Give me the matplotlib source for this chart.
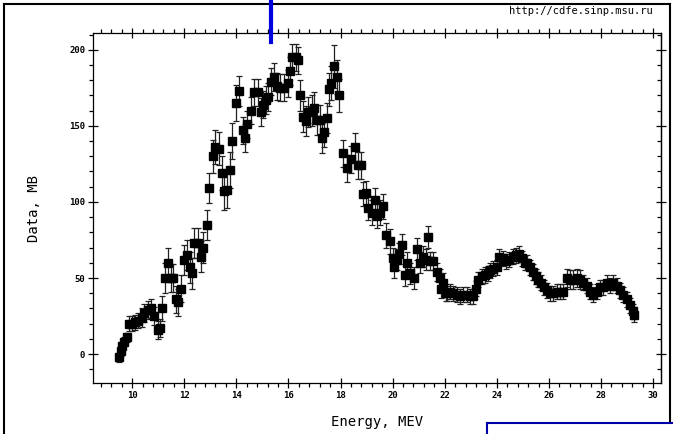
import matplotlib.pyplot as plt
from matplotlib.lines import Line2D
from matplotlib.ticker import MultipleLocator

# energy (MeV), cross section (mb), error (mb)
energy = [
    9.50, 9.58, 9.62, 9.69, 9.81, 9.88, 10.00, 10.12, 10.23, 10.38,
    10.46, 10.61, 10.73, 10.84, 11.00, 11.07, 11.15, 11.27, 11.38, 11.50,
    11.57, 11.69, 11.77, 11.88, 12.00, 12.11, 12.23, 12.30, 12.38, 12.53,
    12.65, 12.73, 12.88, 12.96, 13.11, 13.19, 13.34, 13.45, 13.53, 13.65,
    13.76, 13.84, 13.99, 14.11, 14.26, 14.34, 14.41, 14.57, 14.68, 14.84,
    14.95, 15.03, 15.14, 15.22, 15.34, 15.45, 15.57, 15.68, 15.83, 15.99,
    16.07, 16.14, 16.30, 16.37, 16.45, 16.56, 16.68, 16.76, 16.91, 16.99,
    17.10, 17.22, 17.29, 17.37, 17.49, 17.56, 17.64, 17.75, 17.87, 17.95,
    18.10, 18.25, 18.41, 18.56, 18.68, 18.79, 18.87, 18.98, 19.06, 19.21,
    19.33, 19.40, 19.52, 19.64, 19.75, 19.90, 20.02, 20.06, 20.17, 20.25,
    20.36, 20.48, 20.56, 20.67, 20.83, 20.94, 21.06, 21.17, 21.29, 21.36,
    21.44, 21.55, 21.71, 21.82, 21.86, 21.94, 22.05, 22.09, 22.21, 22.32,
    22.48, 22.59, 22.71, 22.86, 22.98, 23.09, 23.21, 23.28, 23.44, 23.55,
    23.67, 23.74, 23.86, 24.01, 24.09, 24.24, 24.36, 24.47, 24.63, 24.74,
    24.86, 24.97, 25.09, 25.16, 25.28, 25.39, 25.51, 25.59, 25.70, 25.82,
    25.93, 26.05, 26.16, 26.31, 26.43, 26.55, 26.70, 26.81, 26.93, 27.08,
    27.20, 27.31, 27.47, 27.58, 27.70, 27.85, 27.97, 28.08, 28.23, 28.35,
    28.46, 28.62, 28.73, 28.85, 29.00, 29.12, 29.24, 29.27,
]
data = [
    -2, 2, 5, 8, 11, 20, 20, 21, 22, 24,
    27, 29, 30, 25, 16, 17, 30, 50, 60, 50,
    50, 36, 34, 43, 62, 65, 57, 53, 73, 73,
    64, 70, 85, 109, 130, 136, 135, 119, 107, 108,
    121, 140, 165, 173, 147, 142, 151, 160, 172, 172,
    159, 164, 167, 169, 179, 182, 176, 175, 175, 178,
    186, 195, 195, 193, 170, 156, 153, 159, 160, 162,
    154, 154, 142, 146, 155, 174, 178, 189, 182, 170,
    132, 122, 128, 136, 124, 124, 105, 106, 96, 93,
    101, 91, 93, 97, 78, 74, 63, 57, 62, 66,
    72, 52, 60, 53, 50, 69, 60, 64, 62, 77,
    61, 61, 54, 50, 43, 47, 40, 40, 41, 40,
    39, 38, 39, 39, 38, 38, 43, 49, 51, 52,
    53, 55, 56, 57, 64, 63, 61, 62, 64, 65,
    66, 63, 60, 60, 57, 54, 51, 49, 47, 44,
    42, 40, 40, 41, 41, 41, 50, 49, 49, 50,
    49, 47, 45, 41, 39, 41, 44, 44, 47, 45,
    47, 45, 42, 39, 36, 32, 28, 26,
]
error = [
    3, 3, 3, 3, 3, 5, 5, 5, 5, 6,
    6, 6, 6, 6, 6, 6, 8, 10, 10, 9,
    9, 9, 9, 9, 10, 10, 10, 10, 10, 10,
    10, 10, 10, 10, 11, 11, 11, 11, 12, 12,
    12, 12, 12, 10, 9, 9, 9, 9, 9, 9,
    9, 9, 9, 9, 9, 9, 9, 9, 9, 9,
    9, 9, 9, 9, 10, 10, 10, 10, 10, 10,
    10, 10, 10, 10, 10, 11, 11, 14, 11, 11,
    9, 9, 9, 9, 9, 9, 8, 8, 8, 8,
    8, 8, 8, 8, 8, 8, 7, 7, 7, 7,
    7, 7, 7, 7, 7, 7, 7, 7, 7, 7,
    6, 6, 6, 6, 6, 6, 5, 5, 5, 5,
    5, 5, 5, 5, 5, 5, 5, 5, 5, 5,
    5, 5, 5, 5, 5, 5, 5, 5, 5, 5,
    5, 5, 5, 5, 5, 5, 5, 5, 5, 5,
    5, 5, 5, 5, 5, 5, 6, 6, 6, 6,
    6, 5, 5, 5, 5, 5, 5, 5, 5, 5,
    5, 5, 5, 5, 5, 5, 5, 5,
]

mono = "DejaVu Sans Mono"

fig = plt.figure(figsize=(6.73, 4.34), dpi=100)
ax = fig.add_axes([93 / 673, 1 - 383 / 434, 568 / 673, 350 / 434])

ax.errorbar(energy, data, yerr=error, fmt="s", color="black", ms=5.8,
            ecolor="#222222", elinewidth=0.9, capsize=2.5, capthick=0.9)

ax.set_xlim(8.5, 30.3)
ax.set_ylim(-19, 211)
ax.xaxis.set_major_locator(MultipleLocator(2))
ax.xaxis.set_minor_locator(MultipleLocator(0.4))
ax.yaxis.set_major_locator(MultipleLocator(50))
ax.yaxis.set_minor_locator(MultipleLocator(10))

ax.tick_params(which="major", direction="inout", length=7, width=0.9,
               top=True, right=False, labelsize=6.5, pad=2)
ax.tick_params(which="minor", direction="out", length=3.2, width=0.9,
               top=True, right=False)
for lab in ax.get_xticklabels() + ax.get_yticklabels():
    lab.set_fontfamily(mono)
    lab.set_fontweight("bold")

# right side ticks point inward
sec = ax.secondary_yaxis("right")
sec.yaxis.set_major_locator(MultipleLocator(50))
sec.yaxis.set_minor_locator(MultipleLocator(10))
sec.tick_params(which="major", direction="inout", length=7, width=0.9, labelright=False)
sec.tick_params(which="minor", direction="in", length=3.2, width=0.9)
sec.spines["right"].set_linewidth(0.9)

for s in ax.spines.values():
    s.set_linewidth(0.9)

ax.set_xlabel("Energy, MEV", fontfamily=mono, fontsize=10, labelpad=11)
ax.set_ylabel("Data, MB", fontfamily=mono, fontsize=10, labelpad=20)

fig.text(653 / 673, 1 - 11 / 434, "http://cdfe.sinp.msu.ru", fontfamily=mono,
         fontsize=7.5, ha="right", va="center")

# page frame and blue screenshot lines
W, H = 673.0, 434.0
def px_line(x, y, color, lw):
    fig.add_artist(Line2D([v / W for v in x], [1 - v / H for v in y],
                          transform=fig.transFigure, color=color, lw=lw))

px_line([3.5, 3.5], [3.5, 434], "black", 1.5)
px_line([3.5, 670], [3.5, 3.5], "black", 1.5)
px_line([670, 670], [3.5, 422], "black", 1.5)
px_line([271, 271], [0, 42], "#0000dd", 3)
px_line([487, 673], [423, 423], "#0000aa", 1.5)
px_line([487, 487], [423, 434], "#0000aa", 1.5)

fig.savefig("out.png", dpi=100)
